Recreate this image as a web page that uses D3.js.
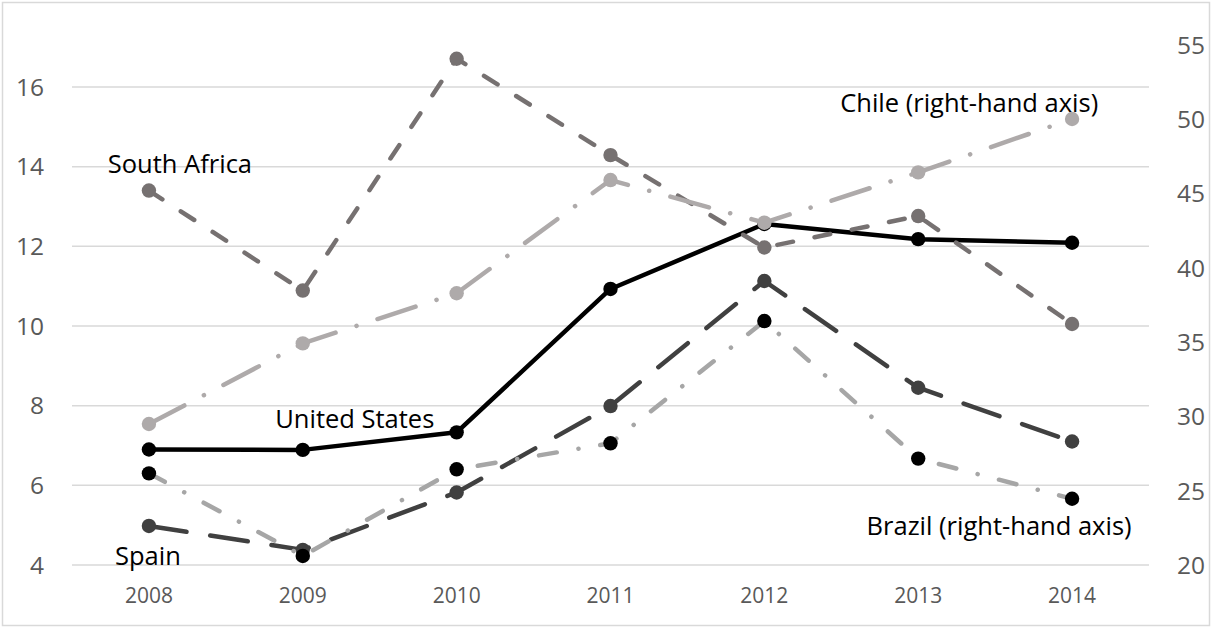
<!DOCTYPE html>
<html>
<head>
<meta charset="utf-8">
<script src="https://cdn.jsdelivr.net/npm/d3@7"></script>
<style>
  body { margin: 0; background: #fff; }
  svg { display: block; font-family: "Open Sans", sans-serif; }
</style>
</head>
<body>
<svg id="chart"></svg>
<script>
const years = [2008, 2009, 2010, 2011, 2012, 2013, 2014];

// left-hand axis series
const unitedStates = [6.90, 6.89, 7.33, 10.93, 12.56, 12.18, 12.09];
const southAfrica  = [13.40, 10.89, 16.71, 14.29, 11.97, 12.76, 10.05];
const spain        = [4.98, 4.38, 5.82, 7.99, 11.13, 8.45, 7.10];

// right-hand axis series
const chile  = [29.49, 34.92, 38.29, 45.91, 43.04, 46.43, 50.02];
const brazil = [26.17, 20.61, 26.44, 28.19, 36.42, 27.16, 24.46];

const leftTicks  = [4, 6, 8, 10, 12, 14, 16];
const rightTicks = [20, 25, 30, 35, 40, 45, 50, 55];

const width = 1212, height = 628;
const plotLeft = 72, plotRight = 1149, plotTop = 45, plotBottom = 565;

const svg = d3.select("#chart")
    .attr("width", width)
    .attr("height", height);

svg.append("rect")
    .attr("x", 2.5).attr("y", 2.5)
    .attr("width", width - 5).attr("height", height - 5)
    .attr("fill", "#fff")
    .attr("stroke", "#d9d9d9")
    .attr("stroke-width", 1.5);

const x = d3.scalePoint()
    .domain(years)
    .range([plotLeft, plotRight])
    .padding(0.5);

// left axis: 4..16 sits on 565..87, top of the plot area is a bit above 16
const yLeft = d3.scaleLinear()
    .domain([4, 16])
    .range([plotBottom, 87]);

const yRight = d3.scaleLinear()
    .domain([20, 55])
    .range([plotBottom, plotTop]);

// gridlines
svg.append("g")
    .selectAll("line")
    .data(leftTicks)
    .enter().append("line")
    .attr("x1", plotLeft)
    .attr("x2", plotRight)
    .attr("y1", d => yLeft(d))
    .attr("y2", d => yLeft(d))
    .attr("stroke", "#d9d9d9")
    .attr("stroke-width", 1.5);

// left tick labels
svg.append("g")
    .selectAll("text")
    .data(leftTicks)
    .enter().append("text")
    .attr("x", 44)
    .attr("y", d => yLeft(d))
    .attr("dy", "0.36em")
    .attr("text-anchor", "end")
    .attr("font-size", 24.5)
    .attr("fill", "#595959")
    .text(d => d);

// right tick labels
svg.append("g")
    .selectAll("text")
    .data(rightTicks)
    .enter().append("text")
    .attr("x", 1177)
    .attr("y", d => yRight(d))
    .attr("dy", "0.36em")
    .attr("text-anchor", "start")
    .attr("font-size", 24.5)
    .attr("fill", "#595959")
    .text(d => d);

// x labels
svg.append("g")
    .selectAll("text")
    .data(years)
    .enter().append("text")
    .attr("x", d => x(d))
    .attr("y", 603)
    .attr("text-anchor", "middle")
    .attr("font-size", 21)
    .attr("fill", "#595959")
    .text(d => d);

const series = [
    { name: "United States", values: unitedStates, scale: yLeft, line: "#000000", marker: "#000000", dash: null },
    { name: "South Africa", values: southAfrica, scale: yLeft, line: "#767171", marker: "#767171", dash: "16,22" },
    { name: "Spain", values: spain, scale: yLeft, line: "#404040", marker: "#404040", dash: "38,24" },
    { name: "Chile", values: chile, scale: yRight, line: "#aeaaaa", marker: "#aeaaaa", dash: "40,22,0.1,22" },
    { name: "Brazil", values: brazil, scale: yRight, line: "#a6a6a6", marker: "#000000", dash: "18,22,0.1,22" }
];

series.forEach(function(s) {
    const pts = years.map((yr, i) => [x(yr), s.scale(s.values[i])]);
    const g = svg.append("g").attr("class", "series");

    g.append("path")
        .attr("d", d3.line()(pts))
        .attr("fill", "none")
        .attr("stroke", s.line)
        .attr("stroke-width", 4.5)
        .attr("stroke-linecap", "round")
        .attr("stroke-linejoin", "round")
        .attr("stroke-dasharray", s.dash);

    g.selectAll("circle")
        .data(pts)
        .enter().append("circle")
        .attr("cx", d => d[0])
        .attr("cy", d => d[1])
        .attr("r", 7.2)
        .attr("fill", s.marker);
});

// annotations
const notes = [
    { text: "South Africa", x: x(2008) + 31, y: yLeft(southAfrica[0]) - 18 },
    { text: "United States", x: x(2009) + 52, y: yLeft(unitedStates[1]) - 22 },
    { text: "Spain", x: x(2008) - 1, y: yLeft(4) },
    { text: "Chile (right-hand axis)", x: x(2013) + 51, y: yRight(chile[6]) - 7 },
    { text: "Brazil (right-hand axis)", x: x(2014) - 73, y: yRight(brazil[6]) + 36 }
];

svg.append("g")
    .selectAll("text")
    .data(notes)
    .enter().append("text")
    .attr("x", d => d.x)
    .attr("y", d => d.y)
    .attr("text-anchor", "middle")
    .attr("font-size", 25.5)
    .attr("fill", "#000")
    .text(d => d.text);
</script>
</body>
</html>
